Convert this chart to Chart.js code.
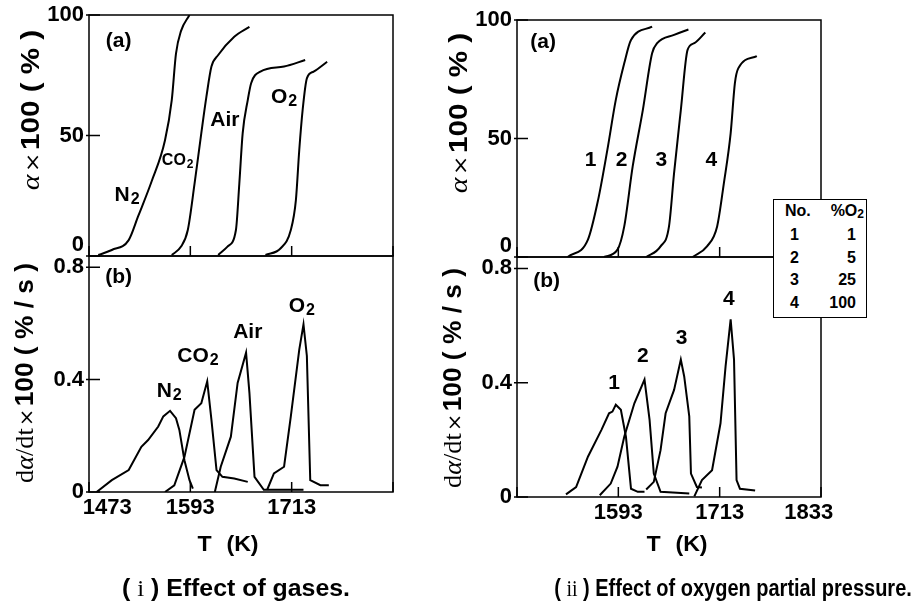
<!DOCTYPE html>
<html>
<head>
<meta charset="utf-8">
<script src="https://cdn.jsdelivr.net/npm/chart.js@4.4.1/dist/chart.umd.min.js"></script>
<style>
    body { margin: 0; background: #fff; }
    #lienzo { position: relative; width: 915px; height: 606px; overflow: hidden; }
    #lienzo canvas { position: absolute; left: 0; top: 0; }
    .txt { position: absolute; font-family: 'Liberation Sans', Arial, sans-serif; font-weight: bold; color: #000; white-space: nowrap; transform: translate(-50%, -50%); }
    .ytit { font-size: 25px; }
    .serif { font-family: 'Liberation Serif', 'DejaVu Serif', serif; font-weight: normal; }
    .serif i { font-style: italic; }
    .por { font-family: 'DejaVu Sans', sans-serif; font-weight: normal; font-size: 20px; margin: 0 2px; }
    .xtit { font-size: 22px; word-spacing: 8px; }
    .cap { font-size: 23px; }
    #leyenda { position: absolute; left: 773px; top: 199px; width: 92px; height: 117px; border: 1.5px solid #000; background: #fff;
               font-family: 'Liberation Sans', Arial, sans-serif; font-weight: bold; font-size: 16px; }
    #leyenda div { position: absolute; height: 20px; line-height: 20px; }
    sub { font-size: 75%; vertical-align: -2px; line-height: 0; }
</style>
</head>
<body>
<div id="lienzo">
    <canvas id="gasA" width="915" height="606"></canvas>
    <canvas id="gasB" width="915" height="606"></canvas>
    <canvas id="oxiA" width="915" height="606"></canvas>
    <canvas id="oxiB" width="915" height="606"></canvas>

    <div class="txt ytit" data-largo="160" data-rot="1" style="left:30px; top:110px;"><span class="serif"><i>α</i></span><span class="por">×</span>100 ( % )</div>
    <div class="txt ytit" data-largo="220" data-rot="1" style="left:24px; top:373px;"><span class="serif">d<i>α</i>/dt</span><span class="por">×</span>100 ( % / s )</div>
    <div class="txt ytit" data-largo="160" data-rot="1" style="left:458px; top:113px;"><span class="serif"><i>α</i></span><span class="por">×</span>100 ( % )</div>
    <div class="txt ytit" data-largo="220" data-rot="1" style="left:452px; top:378px;"><span class="serif">d<i>α</i>/dt</span><span class="por">×</span>100 ( % / s )</div>

    <div class="txt xtit" data-largo="61" style="left:228px; top:544px;">T (K)</div>
    <div class="txt xtit" data-largo="61" style="left:677px; top:544px;">T (K)</div>
    <div class="txt cap" data-largo="228" style="left:236px; top:588px;">( <span class="serif">i</span> ) Effect of gases.</div>
    <div class="txt cap" data-largo="358" style="left:733px; top:588px;">( <span class="serif">ii</span> ) Effect of oxygen partial pressure.</div>

    <div id="leyenda"></div>
</div>

<script>
// ejes
const tempTicks = [1473, 1593, 1713, 1833];
const convTicks = [0, 50, 100];
const rateTicks = [0, 0.4, 0.8];
const RATE_MAX = 0.84;

// (i) efecto de gases - conversion (a)
const n2ConvT = [1484, 1500, 1520, 1531, 1547, 1563, 1571, 1576, 1582, 1592];
const n2Conv = [0.4, 2.5, 6.6, 16.3, 30.8, 48, 64.7, 84, 93.4, 100];
const co2ConvT = [1571, 1582, 1590, 1598, 1606, 1612, 1618, 1626, 1645, 1663];
const co2Conv = [0.4, 3.9, 10.8, 30, 51, 66, 78.6, 83.4, 91, 95.1];
const airConvT = [1626, 1637, 1647, 1651, 1655, 1661, 1665, 1676, 1704, 1729];
const airConv = [0.4, 3.9, 10.8, 30, 51, 64.7, 71.7, 76.5, 78.6, 81.3];
const o2ConvT = [1682, 1700, 1712, 1718, 1722, 1726, 1731, 1739, 1755];
const o2Conv = [0.4, 3.2, 10.8, 23.2, 44, 60.6, 73.7, 76.5, 80.6];

// (i) efecto de gases - velocidad (b)
const n2RateT = [1482, 1500, 1520, 1535, 1543, 1555, 1561, 1569, 1576, 1580, 1586, 1592, 1596];
const n2Rate = [0, 0.042, 0.078, 0.161, 0.185, 0.233, 0.269, 0.289, 0.263, 0.221, 0.113, 0.042, 0.012];
const co2RateT = [1563, 1574, 1586, 1598, 1606, 1613, 1618, 1624, 1631, 1645, 1661];
const co2Rate = [0, 0.024, 0.125, 0.293, 0.316, 0.394, 0.257, 0.078, 0.054, 0.048, 0.036];
const airRateT = [1622, 1629, 1641, 1649, 1659, 1663, 1669, 1680, 1727];
const airRate = [0, 0.09, 0.197, 0.388, 0.496, 0.352, 0.054, 0.008, 0.008];
const o2RateT = [1684, 1692, 1704, 1712, 1722, 1727, 1731, 1735, 1747, 1757];
const o2Rate = [0.008, 0.066, 0.09, 0.269, 0.507, 0.597, 0.484, 0.042, 0.024, 0.024];

// (ii) presion parcial de oxigeno
const oxigenoNo = [1, 2, 3, 4];
const oxigenoPct = [1, 5, 25, 100];

const o1ConvT = [1533, 1557, 1569, 1580, 1590, 1600, 1608, 1633];
const o1Conv = [0, 7.3, 24, 45.2, 66.3, 81.7, 91.6, 97.2];
const o2pConvT = [1576, 1592, 1600, 1610, 1622, 1633, 1639, 1659, 1676];
const o2pConv = [0, 3.1, 12.9, 38.2, 62, 86, 90.2, 93.7, 96];
const o3ConvT = [1626, 1643, 1653, 1659, 1667, 1675, 1683, 1696];
const o3Conv = [0, 4.5, 12.9, 35.4, 62, 87.4, 90.2, 94.7];
const o4ConvT = [1681, 1698, 1710, 1718, 1726, 1731, 1735, 1757];
const o4Conv = [0, 4.5, 12.9, 31.2, 52.2, 73.3, 79.6, 84.8];

const o1RateT = [1531, 1543, 1557, 1573, 1582, 1586, 1590, 1596, 1602, 1608, 1616, 1624];
const o1Rate = [0.009, 0.035, 0.141, 0.235, 0.293, 0.299, 0.323, 0.305, 0.211, 0.029, 0.018, 0.018];
const o2pRateT = [1571, 1584, 1592, 1600, 1612, 1624, 1630, 1635, 1643, 1677];
const o2pRate = [0.006, 0.047, 0.106, 0.211, 0.328, 0.411, 0.27, 0.082, 0.018, 0.012];
const o3RateT = [1626, 1635, 1643, 1649, 1659, 1667, 1671, 1677, 1679, 1686, 1692];
const o3Rate = [0.026, 0.053, 0.164, 0.293, 0.375, 0.481, 0.422, 0.282, 0.082, 0.035, 0.033];
const o4RateT = [1683, 1692, 1704, 1714, 1720, 1726, 1730, 1733, 1737, 1755];
const o4Rate = [0.002, 0.059, 0.094, 0.258, 0.457, 0.622, 0.481, 0.059, 0.029, 0.023];

// etiquetas dentro de los paneles (en unidades de datos)
const gasConvNotes = [
    { text: '(a)', x: 1508, y: 89 },
    { text: 'N', sub: '2', x: 1518, y: 25.3 },
    { text: 'CO', sub: '2', x: 1578, y: 39.4, size: 16 },
    { text: 'Air', x: 1634, y: 56.4 },
    { text: 'O', sub: '2', x: 1704, y: 66 }
];
const gasRateNotes = [
    { text: '(b)', x: 1508, y: 0.763 },
    { text: 'N', sub: '2', x: 1568, y: 0.358 },
    { text: 'CO', sub: '2', x: 1602, y: 0.484 },
    { text: 'Air', x: 1661, y: 0.57 },
    { text: 'O', sub: '2', x: 1725, y: 0.66 }
];
const oxiConvNotes = [
    { text: '(a)', x: 1504, y: 90.7 },
    { text: '1', x: 1560, y: 41 },
    { text: '2', x: 1597, y: 41 },
    { text: '3', x: 1644, y: 41 },
    { text: '4', x: 1703, y: 41 }
];
const oxiRateNotes = [
    { text: '(b)', x: 1508, y: 0.756 },
    { text: '1', x: 1588, y: 0.4 },
    { text: '2', x: 1622, y: 0.492 },
    { text: '3', x: 1668, y: 0.555 },
    { text: '4', x: 1724, y: 0.692 }
];

const FUENTE = "'Liberation Sans', Arial, sans-serif";

function puntos(ts, vs) {
    return ts.map((t, i) => ({ x: t, y: vs[i] }));
}

function serie(ts, vs, suave) {
    return {
        data: puntos(ts, vs),
        borderColor: '#000',
        borderWidth: 2,
        pointRadius: 0,
        fill: false,
        tension: suave ? 0.4 : 0,
        cubicInterpolationMode: suave ? 'monotone' : 'default'
    };
}

/**
 * Marco completo y marcas de division hacia adentro
 */
const marcoPlugin = {
    id: 'marco',
    afterDraw(chart) {
        const a = chart.chartArea;
        const ctx = chart.ctx;
        const xs = chart.scales.x;
        const ys = chart.scales.y;
        ctx.save();
        ctx.strokeStyle = '#000';
        ctx.lineWidth = 1.5;
        ctx.strokeRect(a.left, a.top, a.right - a.left, a.bottom - a.top);
        ctx.beginPath();
        ys.ticks.forEach(t => {
            const py = ys.getPixelForValue(t.value);
            ctx.moveTo(a.left - 3, py);
            ctx.lineTo(a.left + 11, py);
        });
        xs.ticks.forEach(t => {
            const px = xs.getPixelForValue(t.value);
            ctx.moveTo(px, a.bottom);
            ctx.lineTo(px, a.bottom - 10);
        });
        ctx.stroke();
        ctx.restore();
    }
};

/**
 * Etiquetas de curvas, con subindice opcional
 */
const notasPlugin = {
    id: 'notas',
    afterDatasetsDraw(chart, args, opts) {
        const ctx = chart.ctx;
        const xs = chart.scales.x;
        const ys = chart.scales.y;
        (opts.items || []).forEach(n => {
            const size = n.size || 21;
            const subSize = Math.round(size * 0.78);
            const px = xs.getPixelForValue(n.x);
            const py = ys.getPixelForValue(n.y);
            ctx.save();
            ctx.fillStyle = '#000';
            ctx.textBaseline = 'middle';
            ctx.textAlign = 'left';
            ctx.font = 'bold ' + size + 'px ' + FUENTE;
            const w1 = ctx.measureText(n.text).width;
            let w2 = 0;
            if (n.sub) {
                ctx.font = 'bold ' + subSize + 'px ' + FUENTE;
                w2 = ctx.measureText(n.sub).width + 1;
            }
            const x0 = px - (w1 + w2) / 2;
            ctx.font = 'bold ' + size + 'px ' + FUENTE;
            ctx.fillText(n.text, x0, py);
            if (n.sub) {
                ctx.font = 'bold ' + subSize + 'px ' + FUENTE;
                ctx.fillText(n.sub, x0 + w1 + 1, py + size * 0.2);
            }
            ctx.restore();
        });
    }
};

function etiquetaTemp(v, lado) {
    if (lado === 'izq') {
        if (v === 1473) return '      1473';
        if (v === 1833) return '';
        return String(v);
    }
    if (v === 1473) return '';
    if (v === 1833) return '1833    ';
    return String(v);
}

function crearPanel(id, caja, tipo, datasets, notas, lado) {
    const esConv = tipo === 'conv';
    return new Chart(document.getElementById(id), {
        type: 'line',
        data: { datasets: datasets },
        plugins: [marcoPlugin, notasPlugin],
        options: {
            responsive: false,
            animation: false,
            events: [],
            layout: { padding: { top: caja.top, right: 915 - caja.right, bottom: 0, left: 0 } },
            plugins: {
                legend: { display: false },
                tooltip: { enabled: false },
                notas: { items: notas }
            },
            scales: {
                x: {
                    type: 'linear',
                    min: tempTicks[0],
                    max: tempTicks[tempTicks.length - 1],
                    afterBuildTicks: s => { s.ticks = tempTicks.map(v => ({ value: v })); },
                    afterFit: s => {
                        s.height = 606 - caja.bottom;
                        s.paddingLeft = 0;
                        s.paddingRight = 0;
                    },
                    border: { display: false },
                    grid: { display: false, drawTicks: false, tickLength: 0 },
                    ticks: {
                        display: !esConv,
                        color: '#000',
                        padding: 3,
                        maxRotation: 0,
                        autoSkip: false,
                        font: { family: FUENTE, weight: 'bold', size: 22 },
                        callback: v => etiquetaTemp(v, lado)
                    }
                },
                y: {
                    type: 'linear',
                    min: 0,
                    max: esConv ? 100 : RATE_MAX,
                    afterBuildTicks: s => { s.ticks = (esConv ? convTicks : rateTicks).map(v => ({ value: v })); },
                    afterFit: s => {
                        s.width = caja.left;
                        s.paddingTop = 0;
                        s.paddingBottom = 0;
                    },
                    border: { display: false },
                    grid: { display: false, drawTicks: false, tickLength: 0 },
                    ticks: {
                        color: '#000',
                        padding: 5,
                        autoSkip: false,
                        font: { family: FUENTE, weight: 'bold', size: 22, lineHeight: 1 },
                        callback: v => {
                            if (esConv) return v === 0 ? ['0', ''] : String(v);
                            return v === 0 ? '0' : v.toFixed(1);
                        }
                    }
                }
            }
        }
    });
}

function llenarLeyenda() {
    const caja = document.getElementById('leyenda');
    let html = '<div style="left:11px; top:1px;">No.</div>' +
        '<div style="right:2px; top:1px;">%O<sub>2</sub></div>';
    oxigenoNo.forEach((n, i) => {
        const top = 25 + i * 22.5;
        html += `<div style="left:16px; top:${top}px;">${n}</div>`;
        html += `<div style="right:10px; top:${top}px;">${oxigenoPct[i]}</div>`;
    });
    caja.innerHTML = html;
}

// ajusta el largo de los textos al del original
function ajustarTextos() {
    document.querySelectorAll('[data-largo]').forEach(el => {
        const k = Number(el.dataset.largo) / el.offsetWidth;
        const rot = el.dataset.rot ? ' rotate(-90deg)' : '';
        el.style.transform = `translate(-50%, -50%)${rot} scaleX(${k.toFixed(3)})`;
    });
}

document.addEventListener('DOMContentLoaded', function () {
    crearPanel('gasA', { left: 89, top: 15, right: 393, bottom: 256 }, 'conv', [
        serie(n2ConvT, n2Conv, true),
        serie(co2ConvT, co2Conv, true),
        serie(airConvT, airConv, true),
        serie(o2ConvT, o2Conv, true)
    ], gasConvNotes, 'izq');

    crearPanel('gasB', { left: 89, top: 256, right: 393, bottom: 492 }, 'rate', [
        serie(n2RateT, n2Rate, false),
        serie(co2RateT, co2Rate, false),
        serie(airRateT, airRate, false),
        serie(o2RateT, o2Rate, false)
    ], gasRateNotes, 'izq');

    crearPanel('oxiA', { left: 517, top: 20, right: 821, bottom: 257 }, 'conv', [
        serie(o1ConvT, o1Conv, true),
        serie(o2pConvT, o2pConv, true),
        serie(o3ConvT, o3Conv, true),
        serie(o4ConvT, o4Conv, true)
    ], oxiConvNotes, 'der');

    crearPanel('oxiB', { left: 517, top: 257, right: 821, bottom: 497 }, 'rate', [
        serie(o1RateT, o1Rate, false),
        serie(o2pRateT, o2pRate, false),
        serie(o3RateT, o3Rate, false),
        serie(o4RateT, o4Rate, false)
    ], oxiRateNotes, 'der');

    llenarLeyenda();
    ajustarTextos();
});
</script>
</body>
</html>
